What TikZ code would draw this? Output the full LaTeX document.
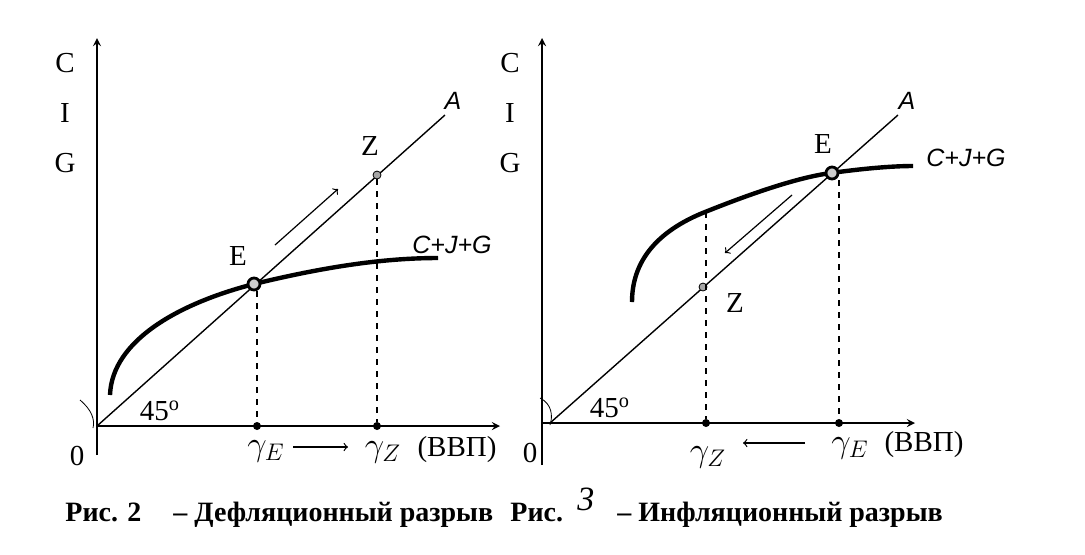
\documentclass[tikz,border=0pt]{standalone}
\usepackage{fontspec}
\setmainfont{Liberation Serif}
\newfontfamily\handfont{Liberation Sans}
\usetikzlibrary{positioning}

\newcommand{\hand}[1]{{\handfont\itshape #1}}

\begin{document}
\begin{tikzpicture}[
  x=0.5pt, y=-0.5pt,
  every node/.style={font=\fontsize{14.5}{16}\selectfont, inner sep=1pt},
  axis/.style={line width=0.8pt,->},
  ray/.style={line width=0.7pt},
  cig/.style={line width=2.2pt},
  drop/.style={dashed,line width=0.6pt},
  move/.style={line width=0.6pt,-to},
  eq/.style={circle,draw,line width=1.4pt,fill=gray!40,minimum size=6pt,inner sep=0pt},
  pt/.style={circle,draw,fill=gray!70,minimum size=4pt,inner sep=0pt},
  tick/.style={circle,fill=black,minimum size=4pt,inner sep=0pt},
  gap/.style={font=\fontsize{17}{19}\selectfont, inner sep=0pt},
  handlab/.style={font=\fontsize{12.5}{14}\selectfont},
  caption/.style={font=\fontsize{14}{16}\selectfont\bfseries, inner sep=0pt},
  >=stealth
]
\useasboundingbox (0,0) rectangle (1085,554);

% LEFT PICTURE: DEFLATIONARY GAP
\coordinate (O1) at (97,426);
\coordinate (Ytop1) at (97,38);
\coordinate (Ybot1) at (97,455);
\coordinate (Xend1) at (500,426);
\coordinate (A1) at (445,115);

\draw[axis] (Ybot1) -- (Ytop1);
\draw[axis] (O1) -- (Xend1);
\draw[ray] (O1) -- (A1);
\draw (80,400) .. controls (92,410) and (95,420) .. (93,428);

\node (C1) at (65,63) {C};
\node (I1) at (65,113) {I};
\node (G1) at (65,163) {G};
\node (zero1) at (77,456) {0};
\node (deg1) at (160,411) {45$^{\mathrm{o}}$};
\node[handlab] (Alab1) at (453,101) {\hand{A}};

% aggregate demand curve
\draw[cig] (110,395) .. controls (112,340) and (180,303) .. (254,284)
  .. controls (320,268) and (380,258) .. (438,258);
\node[handlab] (cig1) at (452,245) {\hand{C+J+G}};

% points E and Z
\node[eq] (E1) at (254,284) {};
\node[pt] (Z1) at (377,175) {};
\node (Elab1) at (238,256) {E};
\node (Zlab1) at (370,146) {Z};

\node[tick] (YE1) at (257,426) {};
\node[tick] (YZ1) at (377,426) {};
\draw[drop] (E1.south -| YE1) -- (YE1);
\draw[drop] (Z1) -- (YZ1);

\coordinate (m1a) at (275,245);
\coordinate (m1b) at (338,189);
\draw[move] (m1a) -- (m1b);

\node[gap] (gE1) at (266,451) {$\gamma_{E}$};
\node[gap] (gZ1) at (383,452) {$\gamma_{Z}$};
\node (gdp1) at (457,450) {(ВВП)};
\coordinate (s1a) at (293,447);
\coordinate (s1b) at (348,447);
\draw[move] (s1a) -- (s1b);

% RIGHT PICTURE: INFLATIONARY GAP
\coordinate (O2) at (550,423);
\coordinate (Ytop2) at (542,38);
\coordinate (Ybot2) at (542,465);
\coordinate (Y02) at (542,423);
\coordinate (Xend2) at (915,423);
\coordinate (A2) at (898,115);

\draw[axis] (Ybot2) -- (Ytop2);
\draw[axis] (Y02) -- (Xend2);
\draw[ray] (O2) -- (A2);
\draw (540,398) .. controls (552,404) and (553,416) .. (550,425);

\node (C2) at (510,63) {C};
\node (I2) at (510,113) {I};
\node (G2) at (510,163) {G};
\node (zero2) at (530,453) {0};
\node (deg2) at (610,408) {45$^{\mathrm{o}}$};
\node[handlab] (Alab2) at (907,101) {\hand{A}};

% aggregate demand curve
\draw[cig] (632,302) .. controls (632,255) and (665,228) .. (705,212)
  .. controls (755,192) and (800,177) .. (831,173)
  .. controls (860,169) and (890,166) .. (913,166);
\node[handlab] (cig2) at (966,158) {\hand{C+J+G}};

% points E and Z
\node[eq] (E2) at (832,173) {};
\node[pt] (Z2) at (703,287) {};
\node (Elab2) at (823,144) {E};
\node (Zlab2) at (735,303) {Z};

\coordinate (D2) at (706,212);
\node[tick] (YZ2) at (706,423) {};
\node[tick] (YE2) at (839,423) {};
\draw[drop] (D2) -- (YZ2);
\draw[drop] (E2.south -| YE2) -- (YE2);

\coordinate (m2a) at (792,195);
\coordinate (m2b) at (725,253);
\draw[move] (m2a) -- (m2b);

\node[gap] (gZ2) at (708,457) {$\gamma_{Z}$};
\node[gap] (gE2) at (850,448) {$\gamma_{E}$};
\node (gdp2) at (924,445) {(ВВП)};
\coordinate (s2a) at (805,443);
\coordinate (s2b) at (743,443);
\draw[move] (s2a) -- (s2b);

% CAPTION
\node[caption,anchor=base west] (cap1) at (65,521) {Рис. 2};
\node[caption,anchor=base west] (cap2) at (173,521) {– Дефляционный разрыв};
\node[caption,anchor=base west] (cap3) at (510,521) {Рис.};
\node[font=\fontsize{17}{19}\selectfont\itshape,inner sep=0pt,anchor=base west] (cap4) at (577,510) {3};
\node[caption,anchor=base west] (cap5) at (617,521) {– Инфляционный разрыв};

\end{tikzpicture}
\end{document}
